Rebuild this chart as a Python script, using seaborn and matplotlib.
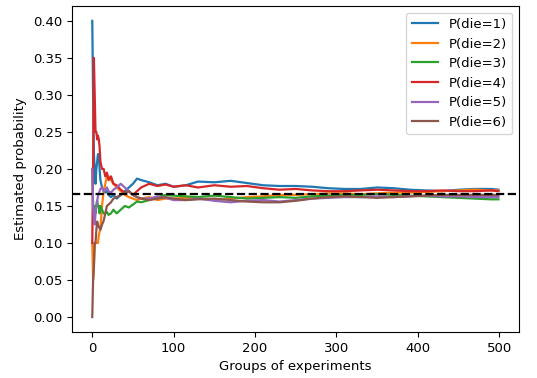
import matplotlib
matplotlib.use("Agg")
import matplotlib.pyplot as plt
import seaborn as sns
import pandas as pd

groups = [0, 1, 2, 3, 4, 5, 6, 7, 8, 9, 10, 12, 14, 16, 18, 20, 23, 26, 30, 35,
          40, 45, 50, 55, 60, 70, 80, 90, 100, 115, 130, 150, 170, 190, 210, 230,
          250, 270, 290, 310, 330, 350, 370, 390, 410, 430, 450, 470, 490, 499]

p_die1 = [0.40, 0.30, 0.22, 0.20, 0.18, 0.20, 0.21, 0.22, 0.22, 0.20, 0.185, 0.175,
          0.17, 0.168, 0.17, 0.165, 0.162, 0.165, 0.16, 0.165, 0.17, 0.175, 0.18,
          0.187, 0.185, 0.182, 0.178, 0.180, 0.176, 0.178, 0.183, 0.182, 0.184,
          0.181, 0.178, 0.177, 0.177, 0.176, 0.174, 0.173, 0.173, 0.175, 0.174,
          0.172, 0.171, 0.170, 0.172, 0.173, 0.173, 0.172]
p_die2 = [0.10, 0.05, 0.07, 0.10, 0.10, 0.10, 0.10, 0.10, 0.11, 0.115, 0.12, 0.15,
          0.17, 0.18, 0.19, 0.19, 0.185, 0.18, 0.175, 0.17, 0.165, 0.162, 0.16,
          0.158, 0.16, 0.162, 0.158, 0.16, 0.16, 0.161, 0.16, 0.158, 0.16, 0.162,
          0.163, 0.165, 0.165, 0.166, 0.167, 0.167, 0.166, 0.167, 0.168, 0.168,
          0.169, 0.170, 0.171, 0.172, 0.171, 0.171]
p_die3 = [0.20, 0.15, 0.133, 0.15, 0.14, 0.15, 0.157, 0.15, 0.15, 0.14, 0.15, 0.145,
          0.14, 0.14, 0.142, 0.138, 0.14, 0.145, 0.14, 0.145, 0.15, 0.148, 0.152,
          0.156, 0.155, 0.158, 0.162, 0.165, 0.164, 0.163, 0.162, 0.164, 0.162,
          0.160, 0.161, 0.162, 0.161, 0.163, 0.164, 0.165, 0.165, 0.166, 0.165,
          0.164, 0.163, 0.162, 0.161, 0.160, 0.159, 0.159]
p_die4 = [0.10, 0.20, 0.35, 0.30, 0.25, 0.25, 0.24, 0.245, 0.24, 0.23, 0.21, 0.20,
          0.20, 0.19, 0.195, 0.185, 0.19, 0.18, 0.178, 0.172, 0.168, 0.17, 0.165,
          0.17, 0.175, 0.18, 0.177, 0.179, 0.176, 0.178, 0.175, 0.178, 0.176,
          0.177, 0.174, 0.172, 0.173, 0.171, 0.170, 0.170, 0.171, 0.172, 0.171,
          0.170, 0.170, 0.171, 0.170, 0.170, 0.171, 0.170]
p_die5 = [0.20, 0.15, 0.133, 0.125, 0.14, 0.15, 0.157, 0.163, 0.167, 0.17, 0.173,
          0.175, 0.17, 0.172, 0.175, 0.17, 0.168, 0.172, 0.175, 0.18, 0.175, 0.17,
          0.165, 0.162, 0.16, 0.16, 0.163, 0.161, 0.158, 0.158, 0.16, 0.157, 0.155,
          0.157, 0.158, 0.156, 0.158, 0.16, 0.161, 0.162, 0.162, 0.163, 0.162,
          0.163, 0.164, 0.163, 0.163, 0.162, 0.162, 0.162]
p_die6 = [0.0, 0.05, 0.067, 0.10, 0.10, 0.117, 0.129, 0.125, 0.122, 0.12, 0.118,
          0.125, 0.13, 0.14, 0.15, 0.152, 0.155, 0.16, 0.162, 0.165, 0.168, 0.17,
          0.165, 0.162, 0.16, 0.158, 0.16, 0.162, 0.16, 0.158, 0.159, 0.16, 0.158,
          0.156, 0.155, 0.155, 0.157, 0.16, 0.162, 0.163, 0.162, 0.161, 0.162,
          0.163, 0.164, 0.165, 0.165, 0.165, 0.165, 0.165]

labels = ["P(die=1)", "P(die=2)", "P(die=3)", "P(die=4)", "P(die=5)", "P(die=6)"]
series = [p_die1, p_die2, p_die3, p_die4, p_die5, p_die6]

rows = []
for lab, vals in zip(labels, series):
    for g, v in zip(groups, vals):
        rows.append({"group": g, "prob": v, "series": lab})
df = pd.DataFrame(rows)

plt.rcParams["font.family"] = ["DejaVu Sans"]
plt.rcParams["font.size"] = 9.5

fig = plt.figure(figsize=(5.37, 3.78), dpi=100)
ax = fig.add_axes([0.134, 0.122, 0.832, 0.862])
sns.lineplot(data=df, x="group", y="prob", hue="series", hue_order=labels,
             palette=sns.color_palette("tab10", 6), linewidth=1.6,
             estimator=None, ax=ax)
ax.axhline(1 / 6, color="black", linestyle="dashed", linewidth=1.6)
ax.set_xlabel("Groups of experiments")
ax.set_ylabel("Estimated probability")
ax.set_yticks([0.0, 0.05, 0.10, 0.15, 0.20, 0.25, 0.30, 0.35, 0.40])
ax.set_yticklabels(["0.00", "0.05", "0.10", "0.15", "0.20", "0.25", "0.30", "0.35", "0.40"])
ax.legend(loc="upper right", title=None)
fig.savefig("out.png", dpi=100)
